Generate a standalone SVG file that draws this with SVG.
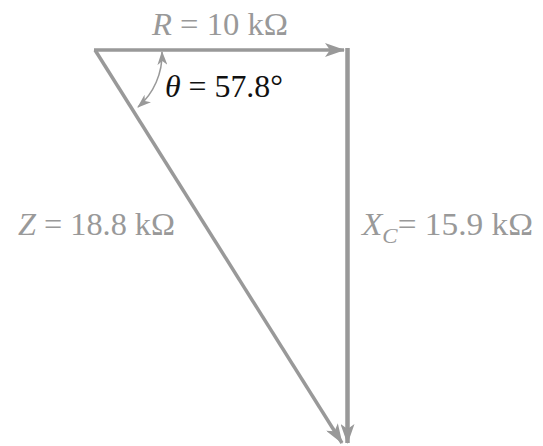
<svg xmlns="http://www.w3.org/2000/svg" width="543" height="446" viewBox="0 0 543 446">
<style>
.ln{stroke:#999;stroke-width:3.5;fill:none}
.lbl{font-family:"Liberation Serif","Times New Roman",serif;font-size:32px;fill:#999}
.th{font-family:"Liberation Serif","Times New Roman",serif;font-size:32px;fill:#111}
</style>
<defs>
<marker id="ah" viewBox="0 0 20 14" refX="19" refY="7" markerWidth="20" markerHeight="14" markerUnits="userSpaceOnUse" orient="auto">
<path d="M0,0 L20,7 L0,14 L5,7 Z" fill="#999"/>
</marker>
<marker id="sa" viewBox="0 0 14 10" refX="13" refY="5" markerWidth="14" markerHeight="10" markerUnits="userSpaceOnUse" orient="auto-start-reverse">
<path d="M0,0 L14,5 L0,10 L4,5 Z" fill="#999"/>
</marker>
</defs>
<g id="connectors">
<line class="ln" x1="94" y1="50" x2="344" y2="50" marker-end="url(#ah)"/>
<line class="ln" x1="347.5" y1="48" x2="347.5" y2="443" style="stroke-width:4.5" marker-end="url(#ah)"/>
<line class="ln" x1="95" y1="50" x2="342" y2="443" marker-end="url(#ah)"/>
<path class="ln" style="stroke-width:1.5" d="M162,52 A70,70 0 0 1 138,107" marker-start="url(#sa)" marker-end="url(#sa)"/>
</g>
<g id="R"><text class="lbl" x="152" y="35" textLength="136" lengthAdjust="spacingAndGlyphs"><tspan font-style="italic">R</tspan> = 10 kΩ</text></g>
<g id="theta"><text class="th" x="165" y="97" textLength="118" lengthAdjust="spacingAndGlyphs"><tspan font-style="italic">θ</tspan> = 57.8°</text></g>
<g id="Z"><text class="lbl" x="18" y="235" textLength="157" lengthAdjust="spacingAndGlyphs"><tspan font-style="italic">Z</tspan> = 18.8 kΩ</text></g>
<g id="XC"><text class="lbl" x="362" y="235" textLength="171" lengthAdjust="spacingAndGlyphs"><tspan font-style="italic">X</tspan><tspan font-style="italic" font-size="22" dy="8">C</tspan><tspan dy="-8">= 15.9 kΩ</tspan></text></g>
</svg>
